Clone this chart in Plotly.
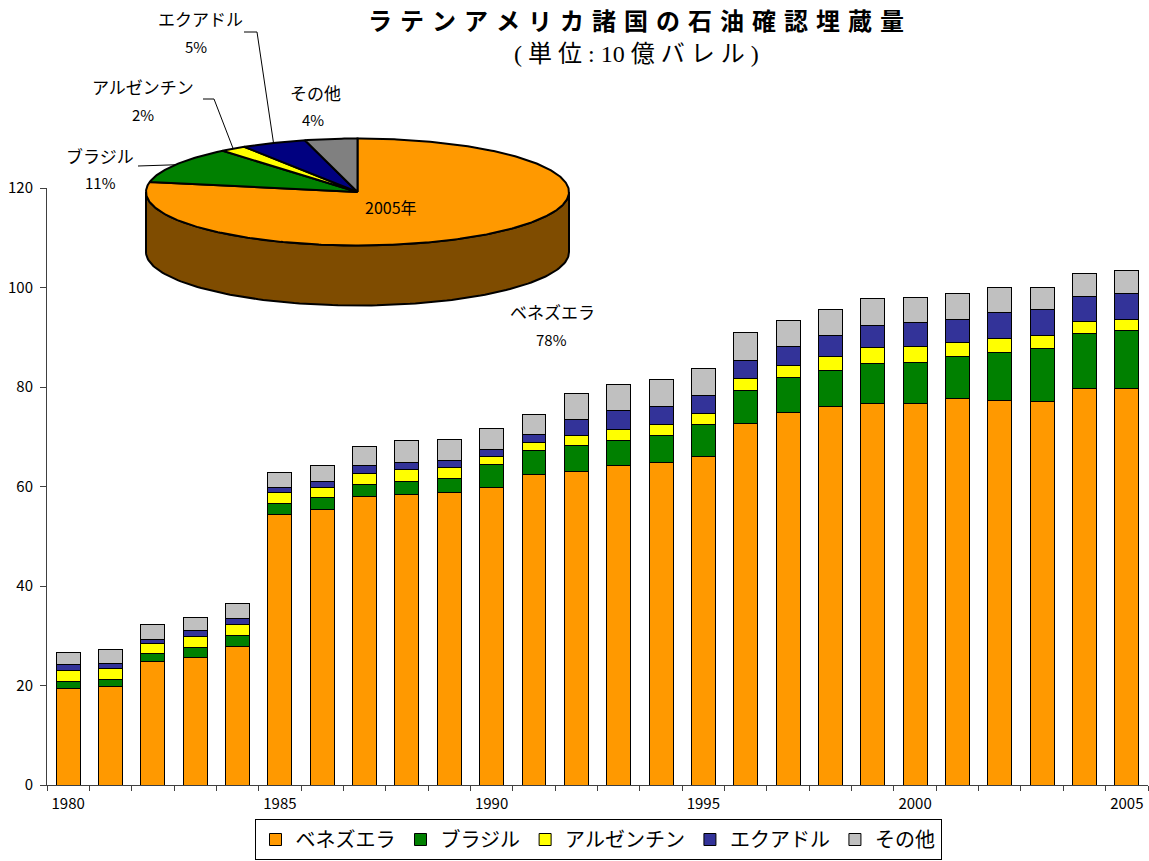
import numpy as np
import plotly.graph_objects as go

# ---------------- data ----------------
years = ["1980", "1981", "1982", "1983", "1984", "1985", "1986", "1987", "1988", "1989",
         "1990", "1991", "1992", "1993", "1994", "1995", "1996", "1997", "1998", "1999",
         "2000", "2001", "2002", "2003", "2004", "2005"]
year_tick_text = ["1980", "", "", "", "", "1985", "", "", "", "", "1990", "", "", "", "",
                  "1995", "", "", "", "", "2000", "", "", "", "", "2005"]

venezuela = [19.4, 19.8, 24.8, 25.7, 27.9, 54.4, 55.3, 57.9, 58.3, 58.8, 59.9, 62.4, 63.1,
             64.2, 64.8, 66.1, 72.6, 74.8, 76.0, 76.7, 76.7, 77.6, 77.2, 77.0, 79.6, 79.6]
brazil = [1.4, 1.5, 1.7, 1.9, 2.1, 2.2, 2.4, 2.6, 2.8, 2.8, 4.5, 4.9, 5.1,
          5.0, 5.4, 6.3, 6.7, 7.1, 7.4, 8.1, 8.3, 8.5, 9.8, 10.7, 11.1, 11.8]
argentina = [2.3, 2.1, 1.9, 2.3, 2.2, 2.2, 2.1, 2.1, 2.3, 2.2, 1.6, 1.6, 2.0,
             2.3, 2.3, 2.3, 2.5, 2.5, 2.7, 3.2, 3.1, 2.9, 2.7, 2.6, 2.4, 2.2]
ecuador = [1.2, 1.0, 0.9, 1.1, 1.2, 1.1, 1.3, 1.6, 1.5, 1.5, 1.5, 1.6, 3.2,
           3.7, 3.5, 3.5, 3.6, 3.7, 4.2, 4.4, 4.8, 4.6, 5.2, 5.2, 5.0, 5.1]
others = [2.4, 2.8, 2.9, 2.6, 3.0, 2.9, 3.2, 3.8, 4.3, 4.1, 4.1, 4.0, 5.2,
          5.4, 5.6, 5.5, 5.5, 5.3, 5.3, 5.3, 5.0, 5.2, 5.2, 4.6, 4.8, 4.7]

series_names = ["ベネズエラ", "ブラジル", "アルゼンチン", "エクアドル", "その他"]

# 2005 pie (percent shares)
pie_year_label = "2005年"
pie_pct = [78, 11, 2, 5, 4]

title_text = "ラテンアメリカ諸国の石油確認埋蔵量"
subtitle_text = "(単位:10 億バレル)"

# ---------------- style / layout ----------------
W, H = 1149, 861
bar_colors = ["#FF9900", "#008000", "#FFFF00", "#333399", "#C0C0C0"]
pie_colors = ["#FF9900", "#008000", "#FFFF00", "#000080", "#808080"]
side_color = "#7F4C00"
FONT = "Noto Sans CJK JP"
axis_col = "#404040"

# pie geometry (pixel coordinates on the overlay axes)
cx, cy, rx, ry, depth = 357.5, 192.0, 211.5, 53.5, 60.0
name_pos = [(552, 311), (100, 155), (143, 86), (200, 18), (315, 92)]
pct_pos = [(551, 339), (100, 182), (143, 114), (196, 46), (313, 119)]
leader_elbows = {1: [(138, 166)], 2: [(203, 99), (214, 99)], 3: [(244, 32), (257, 32)]}

fig = go.Figure()

series = [venezuela, brazil, argentina, ecuador, others]
for name, vals, col in zip(series_names, series, bar_colors):
    fig.add_trace(go.Bar(
        x=years, y=vals, name=name, xaxis="x", yaxis="y",
        marker=dict(color=col, line=dict(color="black", width=1)),
        hoverinfo="skip"))

# ----- 3D-looking pie on a pixel overlay axis -----
def ell(t_deg, dy=0.0):
    t = np.radians(t_deg)
    return cx + rx * np.cos(t), cy - ry * np.sin(t) + dy

# side wall (front half)
t_front = np.linspace(180, 360, 120)
xs_top, ys_top = ell(t_front)
xs_bot, ys_bot = ell(t_front[::-1], depth)
fig.add_trace(go.Scatter(
    x=np.concatenate([xs_top, xs_bot, xs_top[:1]]),
    y=np.concatenate([ys_top, ys_bot, ys_top[:1]]),
    mode="lines", fill="toself", fillcolor=side_color,
    line=dict(color="black", width=2), xaxis="x2", yaxis="y2",
    showlegend=False, hoverinfo="skip"))

bounds = 90 - np.concatenate([[0], np.cumsum(pie_pct)]) * 360.0 / sum(pie_pct)
mid_angles = []
for i, col in enumerate(pie_colors):
    t0, t1 = bounds[i], bounds[i + 1]
    ts = np.linspace(t0, t1, max(4, int(abs(t1 - t0) * 1.5)))
    ax_, ay_ = ell(ts)
    fig.add_trace(go.Scatter(
        x=np.concatenate([[cx], ax_, [cx]]),
        y=np.concatenate([[cy], ay_, [cy]]),
        mode="lines", fill="toself", fillcolor=col,
        line=dict(color="black", width=2), xaxis="x2", yaxis="y2",
        showlegend=False, hoverinfo="skip"))
    mid_angles.append((t0 + t1) / 2)

# leader lines
for i, elbows in leader_elbows.items():
    ex, ey = ell(mid_angles[i])
    pts = elbows + [(ex, ey)]
    fig.add_trace(go.Scatter(
        x=[p[0] for p in pts], y=[p[1] for p in pts], mode="lines",
        line=dict(color="black", width=1), xaxis="x2", yaxis="y2",
        showlegend=False, hoverinfo="skip"))

annotations = []
for i, name in enumerate(series_names):
    annotations.append(dict(x=name_pos[i][0], y=name_pos[i][1], xref="x2", yref="y2",
                            text=name, showarrow=False, xanchor="center", yanchor="middle",
                            font=dict(family=FONT, size=17, color="black")))
    annotations.append(dict(x=pct_pos[i][0], y=pct_pos[i][1], xref="x2", yref="y2",
                            text=f"{pie_pct[i]}%", showarrow=False, xanchor="center",
                            yanchor="middle", font=dict(family=FONT, size=15, color="black")))
annotations.append(dict(x=391, y=207, xref="x2", yref="y2", text=pie_year_label,
                        showarrow=False, xanchor="center", yanchor="middle",
                        font=dict(family=FONT, size=16, color="black")))
annotations.append(dict(x=636, y=19, xref="x2", yref="y2", text="\u2004".join(title_text),
                        showarrow=False, xanchor="center", yanchor="middle", borderpad=0,
                        font=dict(family=FONT, size=24, color="black", weight="bold")))
sub = "\u2005".join(subtitle_text).replace("1\u20050", "10").replace("\u2005 \u2005", " ")
annotations.append(dict(x=636, y=54, xref="x2", yref="y2", text=sub,
                        showarrow=False, xanchor="center", yanchor="middle",
                        font=dict(family="Liberation Serif, " + FONT, size=24, color="black")))

fig.update_layout(
    width=W, height=H, margin=dict(l=0, r=0, t=0, b=0, pad=0, autoexpand=False),
    paper_bgcolor="white", plot_bgcolor="rgba(0,0,0,0)",
    barmode="stack", bargap=0.434, hovermode=False,
    font=dict(family=FONT, color="black"),
    xaxis=dict(domain=[47 / W, 1148 / W], anchor="y", type="category",
               tickmode="array", tickvals=years, ticktext=year_tick_text,
               tickson="boundaries", ticks="outside", ticklen=5, tickcolor=axis_col,
               showline=True, linecolor=axis_col, linewidth=1, showgrid=False,
               tickfont=dict(family=FONT, size=15, color="black"), ticklabelstandoff=5),
    yaxis=dict(domain=[(H - 785) / H, (H - 188) / H], anchor="x", range=[0, 120],
               tickmode="linear", tick0=0, dtick=20, ticks="outside", ticklen=6,
               tickcolor=axis_col, showline=True, linecolor=axis_col, linewidth=1,
               showgrid=False, zeroline=False,
               tickfont=dict(family=FONT, size=15, color="black"), ticklabelstandoff=4),
    xaxis2=dict(domain=[0, 1], range=[0, W], anchor="y2", visible=False, fixedrange=True),
    yaxis2=dict(domain=[0, 1], range=[H, 0], anchor="x2", visible=False, fixedrange=True),
    legend=dict(orientation="h", x=598 / W, xanchor="center", y=(H - 819) / H, yanchor="top",
                bordercolor="black", borderwidth=1, bgcolor="white",
                font=dict(family=FONT, size=20, color="black"), traceorder="normal",
                itemclick=False, itemdoubleclick=False),
    annotations=annotations,
)

fig.write_html("out.html")
